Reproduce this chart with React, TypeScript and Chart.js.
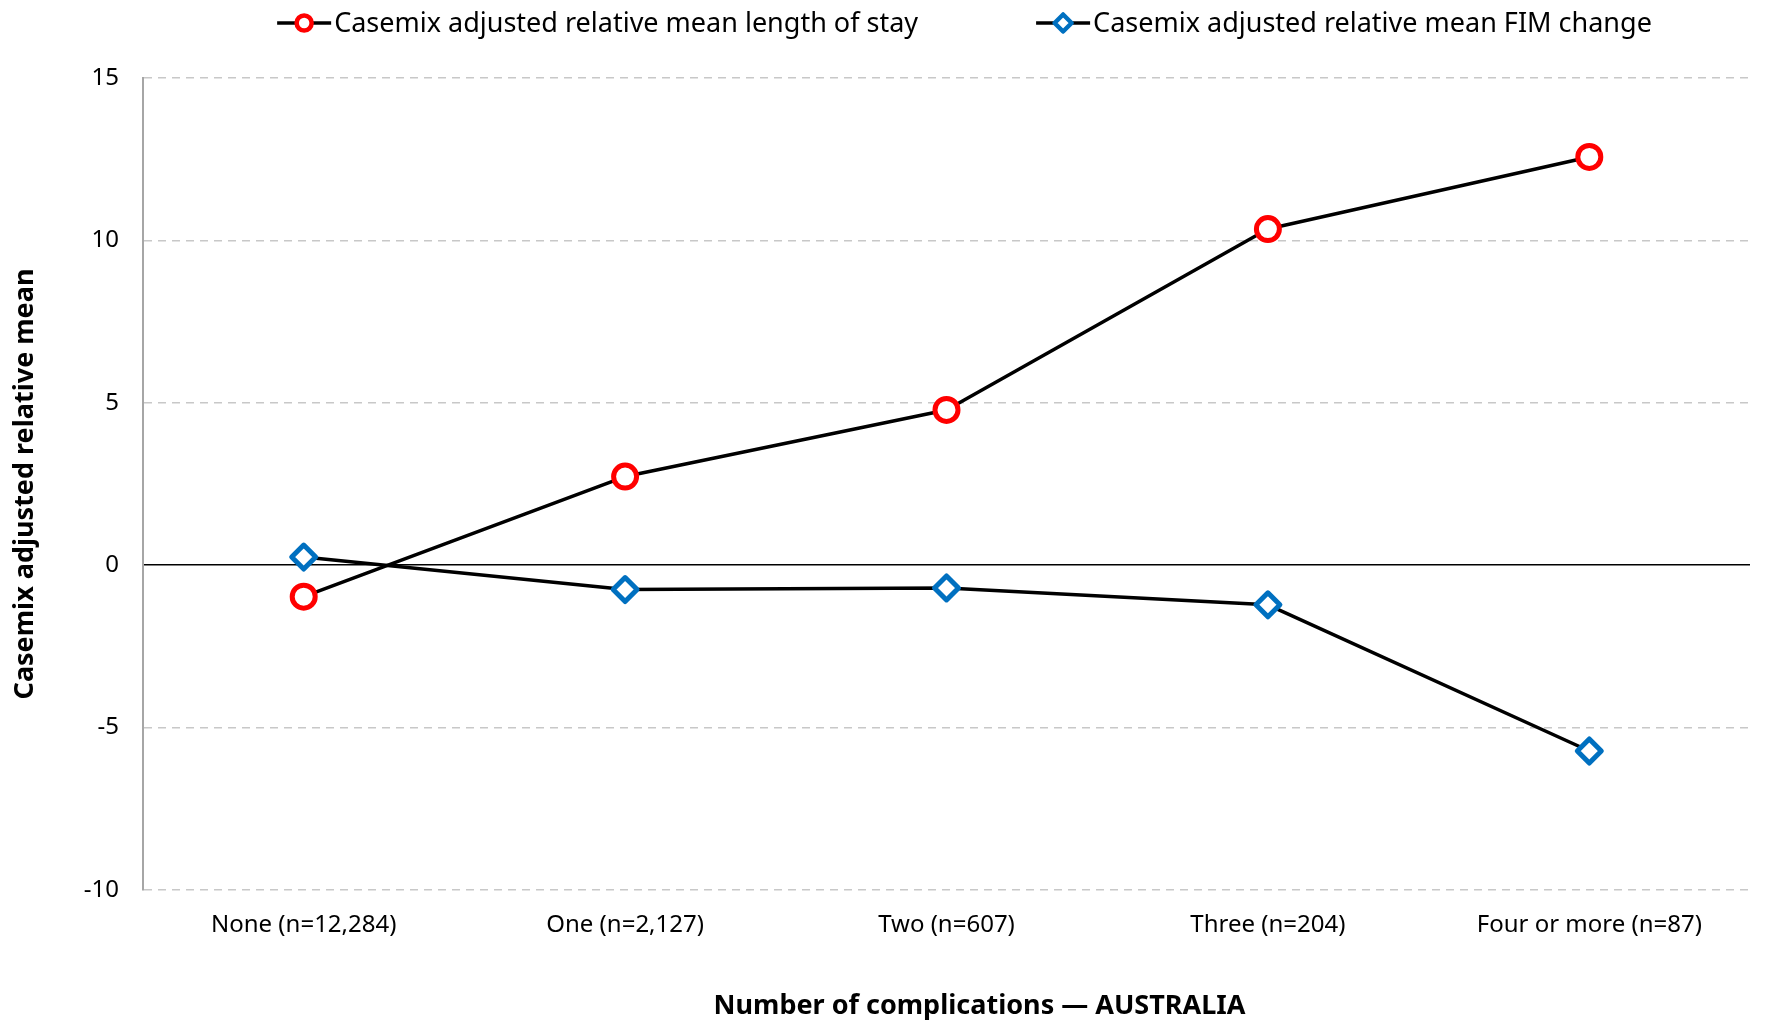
import React, { useEffect, useRef } from 'react';
import { Chart, registerables } from 'chart.js';

Chart.register(...registerables);

const categories = ['None (n=12,284)', 'One (n=2,127)', 'Two (n=607)', 'Three (n=204)', 'Four or more (n=87)'];
const losValues = [-0.97, 2.73, 4.78, 10.35, 12.57];
const fimValues = [0.25, -0.75, -0.7, -1.22, -5.72];
const seriesLabels = ['Casemix adjusted relative mean length of stay', 'Casemix adjusted relative mean FIM change'];
const yMin = -10;
const yMax = 15;
const yStep = 5;
const xTitle = 'Number of complications \u2014 AUSTRALIA';
const yTitle = 'Casemix adjusted relative mean';

const FONT = "'Noto Sans', sans-serif";
const RED = '#FF0000';
const BLUE = '#0070C0';

function drawMarker(ctx: CanvasRenderingContext2D, type: string, x: number, y: number, r: number, color: string, bw: number) {
  ctx.save();
  ctx.lineWidth = bw;
  ctx.lineJoin = 'round';
  ctx.strokeStyle = color;
  ctx.fillStyle = '#fff';
  ctx.beginPath();
  if (type === 'circle') {
    ctx.arc(x, y, r, 0, Math.PI * 2);
  } else {
    ctx.moveTo(x, y - r);
    ctx.lineTo(x + r, y);
    ctx.lineTo(x, y + r);
    ctx.lineTo(x - r, y);
    ctx.closePath();
  }
  ctx.fill();
  ctx.stroke();
  ctx.restore();
}

const roundJoinPlugin = {
  id: 'roundJoin',
  beforeDatasetsDraw(chart: any) {
    chart.ctx.save();
    chart.ctx.lineJoin = 'round';
  },
  afterDatasetsDraw(chart: any) {
    chart.ctx.restore();
  },
};

const legendPlugin = {
  id: 'customLegend',
  afterDraw(chart: any) {
    const ctx: CanvasRenderingContext2D = chart.ctx;
    const area = chart.chartArea;
    ctx.save();
    ctx.font = `27px ${FONT}`;
    ctx.textBaseline = 'middle';
    ctx.fillStyle = '#000';
    const lineW = 54;
    const gap = 3;
    const itemGap = 118;
    const types = ['circle', 'diamond'];
    const colors = [RED, BLUE];
    const widths = seriesLabels.map((t) => lineW + gap + ctx.measureText(t).width);
    const total = widths.reduce((a, b) => a + b, 0) + itemGap * (widths.length - 1);
    const center = (area.left + area.right) / 2 + 18;
    let x = center - total / 2;
    const y = 23;
    seriesLabels.forEach((t, i) => {
      ctx.save();
      ctx.strokeStyle = '#000';
      ctx.lineWidth = 3.5;
      ctx.beginPath();
      ctx.moveTo(x, y);
      ctx.lineTo(x + lineW, y);
      ctx.stroke();
      ctx.restore();
      drawMarker(ctx, types[i], x + lineW / 2, y, i === 0 ? 7.5 : 8.5, colors[i], 4.5);
      ctx.fillText(t, x + lineW + gap, y + 1);
      x += widths[i] + itemGap;
    });

    // x-axis title (offset to the right as in the reference)
    ctx.font = `bold 27px ${FONT}`;
    ctx.textAlign = 'center';
    ctx.textBaseline = 'middle';
    ctx.fillText(xTitle, (area.left + area.right) / 2 + 33, 1006);
    ctx.restore();
  },
};

export default function App() {
  const ref = useRef<HTMLCanvasElement | null>(null);
  useEffect(() => {
    document.body.style.margin = '0';
    if (!ref.current) return;
    const chart = new Chart(ref.current, {
      type: 'line',
      data: {
        labels: categories,
        datasets: [
          {
            label: seriesLabels[0],
            data: losValues,
            borderColor: '#000',
            borderWidth: 3.5,
            borderJoinStyle: 'round',
            pointStyle: 'circle',
            pointRadius: 11.5,
            pointBorderWidth: 5,
            pointBorderColor: RED,
            pointBackgroundColor: '#fff',
            tension: 0,
          },
          {
            label: seriesLabels[1],
            data: fimValues,
            borderColor: '#000',
            borderWidth: 3.5,
            borderJoinStyle: 'round',
            pointStyle: 'rectRot',
            pointRadius: 12,
            pointBorderWidth: 5,
            pointBorderColor: BLUE,
            pointBackgroundColor: '#fff',
            tension: 0,
          },
        ],
      },
      options: {
        responsive: false,
        animation: false,
        layout: { padding: { top: 78, right: 2, left: 0, bottom: 0 } },
        plugins: {
          legend: { display: false },
          tooltip: { enabled: false },
        },
        scales: {
          x: {
            offset: true,
            grid: { display: false },
            border: { display: false },
            ticks: { color: '#000', font: { family: FONT, size: 24 }, padding: 13, maxRotation: 0 },
            title: { display: false },
            afterFit: (scale: any) => {
              scale.height = 140;
            },
          },
          y: {
            min: yMin,
            max: yMax,
            ticks: { stepSize: yStep, color: '#000', font: { family: FONT, size: 24 }, padding: 24 },
            grid: {
              drawTicks: false,
              color: (c: any) => (c.tick && c.tick.value === 0 ? '#000' : '#c8c8c8'),
              lineWidth: 1.5,
            },
            border: {
              display: true,
              color: '#a6a6a6',
              width: 2,
              dash: (c: any) => (c.tick && c.tick.value === 0 ? [] : [8, 6]),
            },
            title: {
              display: true,
              text: yTitle,
              color: '#000',
              font: { family: FONT, size: 27, weight: 'bold' },
              padding: { top: 9, bottom: 0 },
            },
            afterFit: (scale: any) => {
              scale.width = 143;
            },
          },
        },
      },
      plugins: [roundJoinPlugin, legendPlugin],
    });
    return () => chart.destroy();
  }, []);
  return (
    <div style={{ width: 1767, height: 1030 }}>
      <canvas ref={ref} width={1767} height={1030} style={{ display: 'block' }} />
    </div>
  );
}
